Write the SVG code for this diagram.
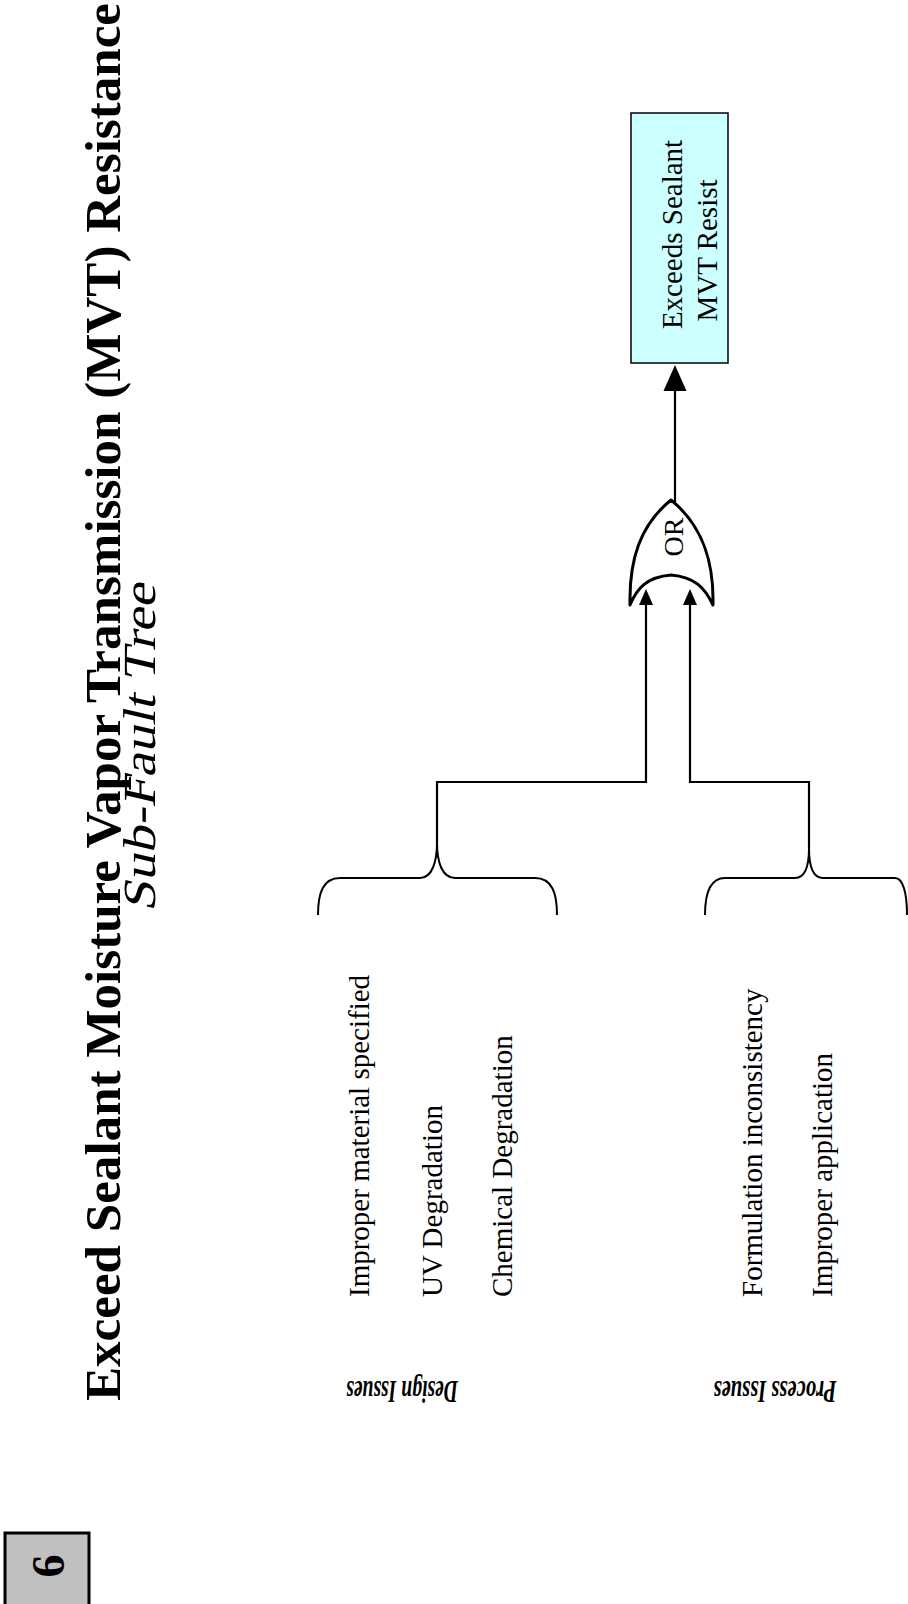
<svg xmlns="http://www.w3.org/2000/svg" width="908" height="1604" viewBox="0 0 908 1604">
  <style>
    .serif { font-family: "Liberation Serif", "Times New Roman", serif; fill: #000; }
    .title { font-size: 50px; font-weight: bold; }
    .sub { font-size: 46px; }
    .label { font-size: 29px; }
    .cat { font-size: 32px; font-weight: bold; font-style: italic; }
    .wire { fill: none; stroke: #000; stroke-width: 2.2; }
    .brace { fill: none; stroke: #000; stroke-width: 2; }
    .head { fill: #000; stroke: none; }
  </style>
  <rect x="0" y="0" width="908" height="1604" fill="#fff"/>

  <!-- page heading, rotated to read bottom-to-top -->
  <g id="heading">
    <text class="serif title" transform="translate(120,1401) rotate(-90)" x="0" y="0" textLength="1398" lengthAdjust="spacingAndGlyphs">Exceed Sealant Moisture Vapor Transmission (MVT) Resistance</text>
    <!-- slanted with a skew so the serif face is kept -->
    <text class="serif sub" transform="translate(155,912) rotate(-90) skewX(-13)" x="0" y="0" textLength="328" lengthAdjust="spacingAndGlyphs">Sub-Fault Tree</text>
  </g>

  <!-- page tab -->
  <g id="page-number">
    <rect x="5" y="1533" width="84" height="80" fill="#c0c0c0" stroke="#000" stroke-width="3"/>
    <text class="serif" transform="translate(64,1566) rotate(-90)" text-anchor="middle" font-size="46" font-weight="bold">6</text>
  </g>

  <!-- connectors -->
  <g id="connectors">
    <line class="wire" x1="675" y1="502" x2="675" y2="390"/>
    <polygon class="head" points="675,365 663.5,391 686.5,391"/>
    <path class="wire" d="M437,842 L437,782 L646,782 L646,603"/>
    <polygon class="head" points="646,589 639,605 653,605"/>
    <path class="wire" d="M809,848 L809,782 L690,782 L690,603"/>
    <polygon class="head" points="690,589 683,605 697,605"/>
  </g>

  <!-- top event -->
  <g id="top-event">
    <rect x="631" y="113" width="97" height="250" fill="#ccffff" stroke="#000" stroke-width="1.5"/>
    <text class="serif label" transform="translate(682,234.5) rotate(-90)" text-anchor="middle">Exceeds Sealant</text>
    <text class="serif label" transform="translate(717,250.5) rotate(-90)" text-anchor="middle">MVT Resist</text>
  </g>

  <!-- OR gate -->
  <g id="or-gate">
    <path d="M630,605 C629,560 640,525 671,500 C702,525 714,560 713,605 C705,588 695,577 671,575 C647,577 637,588 630,605 Z" fill="#fff" stroke="#000" stroke-width="3" stroke-linejoin="round"/>
    <text class="serif" transform="translate(683,537) rotate(-90)" text-anchor="middle" font-size="28">OR</text>
  </g>

  <!-- design causes -->
  <g id="design-issues">
    <path class="brace" d="M318,915 C318,893 323,878 340,878 L420,878 C432,878 437,862 437,842 C437,862 442,878 455,878 L535,878 C552,878 557,893 557,915"/>
    <text class="serif label" transform="translate(369,1297) rotate(-90)">Improper material specified</text>
    <text class="serif label" transform="translate(442,1297) rotate(-90)">UV Degradation</text>
    <text class="serif label" transform="translate(512,1297) rotate(-90)">Chemical Degradation</text>
    <text class="serif cat" transform="translate(402,1381) rotate(180)" text-anchor="middle" textLength="112" lengthAdjust="spacingAndGlyphs">Design Issues</text>
  </g>

  <!-- process causes -->
  <g id="process-issues">
    <path class="brace" d="M705,915 C705,893 710,878 725,878 L795,878 C805,878 809,865 809,848 C809,865 813,878 823,878 L895,878 C903,878 907,893 907,915"/>
    <text class="serif label" transform="translate(762,1297) rotate(-90)">Formulation inconsistency</text>
    <text class="serif label" transform="translate(832,1297) rotate(-90)">Improper application</text>
    <text class="serif cat" transform="translate(775,1381) rotate(180)" text-anchor="middle" textLength="123" lengthAdjust="spacingAndGlyphs">Process Issues</text>
  </g>
</svg>
